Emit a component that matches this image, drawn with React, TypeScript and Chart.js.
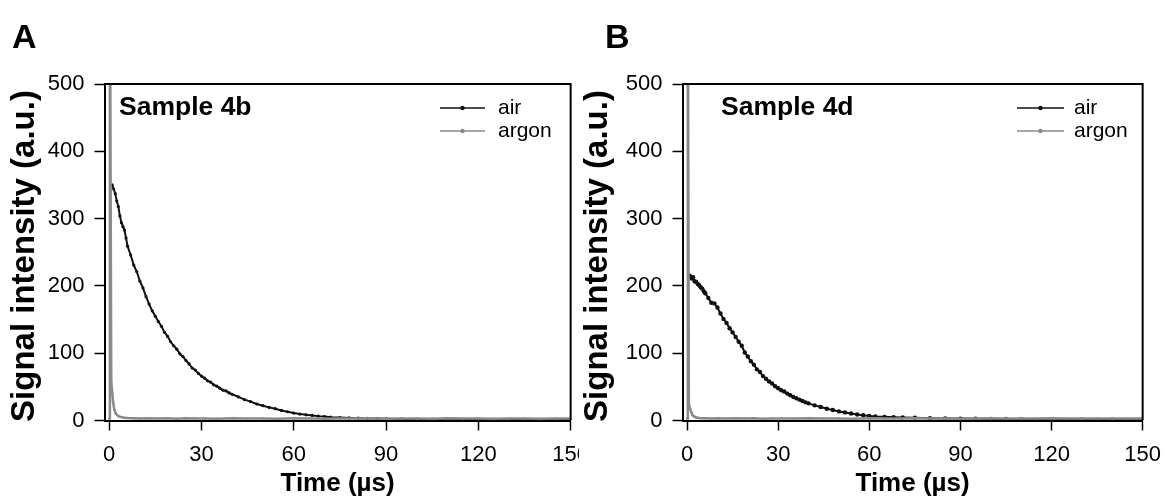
import React, { useEffect, useRef } from "react";
import { Chart, registerables } from "chart.js";

Chart.register(...registerables);

// ---------- data ----------
const xTickValues = [0, 30, 60, 90, 120, 150];
const yTickValues = [0, 100, 200, 300, 400, 500];
const seriesNames = ["air", "argon"];
const panelLetters = ["A", "B"];
const sampleNames = ["Sample 4b", "Sample 4d"];
const xAxisTitle = "Time (µs)";
const yAxisTitle = "Signal intensity (a.u.)";

const airTimeA = [1, 1.5, 2, 2.5, 3, 3.5, 4, 4.5, 5, 5.5, 6, 7, 8, 9, 10, 11, 12, 13, 14, 15, 16, 17, 18, 19, 20, 21, 22, 23, 24, 25, 26, 27, 28, 29, 30, 31, 32, 33, 34, 35, 36, 37, 38, 39, 40, 42, 44, 46, 48, 50, 52, 54, 56, 58, 60, 62, 64, 66, 68, 70, 72, 75, 78, 81, 84, 87, 90, 95, 100, 105, 110, 115, 120, 125, 130, 135, 140, 145, 150];
const airValuesA = [350, 344, 337, 326, 318, 304, 294, 288, 283, 271, 259, 246, 231, 221, 207, 197, 184, 173, 163, 155, 147, 140, 131, 125, 117, 111, 106, 99, 95, 89, 84, 78, 75, 70, 66, 63, 59, 57, 53, 51, 48, 45, 44, 41, 39, 35, 31, 28, 24.5, 22, 19.5, 17.5, 15, 13, 11, 9.5, 8.5, 7.5, 6.5, 5.8, 5, 4.4, 3.9, 3.5, 3.1, 2.8, 2.6, 2.3, 2.1, 1.9, 1.7, 1.6, 1.5, 1.4, 1.3, 1.2, 1.2, 1.1, 1.0];

const argonTimeA = [0, 0.25, 0.7, 1.0, 1.3, 1.7, 2.2, 3, 4, 5, 6, 8, 10, 13, 16, 19, 22, 25, 28, 31, 35, 40, 45, 50, 55, 60, 65, 70, 75, 80, 85, 90, 95, 100, 105, 110, 115, 120, 125, 130, 135, 140, 145, 150];
const argonValuesA = [3, 700, 57, 42, 27, 16, 10, 6.5, 5, 4.2, 3.8, 3.4, 3.0, 3.5, 2.8, 3.2, 2.7, 3.4, 2.9, 3.1, 2.6, 3.3, 2.8, 3.0, 2.7, 3.2, 2.9, 2.6, 3.1, 2.8, 3.3, 2.7, 3.0, 2.9, 2.6, 3.2, 2.8, 3.0, 2.7, 3.1, 2.9, 2.6, 3.0, 2.8];

const airTimeB = [0.9, 1.5, 2, 2.5, 3, 3.5, 4, 4.5, 5, 5.5, 6, 7, 8, 9, 10, 11, 12, 13, 14, 15, 16, 17, 18, 19, 20, 21, 22, 23, 24, 25, 26, 27, 28, 29, 30, 31, 32, 33, 34, 35, 36, 37, 38, 39, 40, 42, 44, 46, 48, 50, 52, 54, 56, 58, 60, 62, 65, 68, 71, 75, 80, 85, 90, 95, 100, 105, 110, 120, 130, 140, 150];
const airValuesB = [215, 211, 213, 207, 206, 203, 201, 198, 196, 192, 189, 182, 175, 174, 168, 159, 151, 145, 137, 131, 124, 117, 111, 101, 95, 88, 83, 76, 72, 66, 62, 58, 55, 51, 48, 45, 43, 40, 37.5, 35, 33, 31, 29, 27, 25.5, 22.5, 20, 17.5, 15.5, 13.5, 12, 10.5, 9, 7.8, 6.8, 6.1, 5.4, 4.9, 4.4, 4, 3.5, 3.1, 2.8, 2.6, 2.4, 2.2, 2.1, 1.9, 1.7, 1.6, 1.5];

const argonTimeB = [0, 0.25, 0.6, 1.0, 1.4, 1.8, 2.3, 3, 4, 5, 6, 8, 10, 13, 16, 19, 22, 25, 28, 31, 35, 40, 45, 50, 55, 60, 65, 70, 75, 80, 85, 90, 95, 100, 105, 110, 115, 120, 125, 130, 135, 140, 145, 150];
const argonValuesB = [3, 700, 24, 18, 12, 8, 6, 4.5, 3.8, 3.5, 3.3, 3.0, 3.4, 2.8, 3.2, 2.9, 3.3, 2.7, 3.1, 3.0, 2.8, 3.2, 2.9, 3.1, 2.7, 3.3, 3.0, 2.8, 3.2, 2.9, 3.1, 2.7, 3.0, 3.2, 2.8, 3.1, 2.9, 3.3, 2.8, 3.0, 2.9, 3.1, 2.8, 3.0];

// ---------- layout ----------
const FONT = "'Liberation Sans', Arial, sans-serif";
const H = 497;
const AREA_TOP = 84;
const AREA_BOTTOM = 420.5;
const AIR_COLOR = "#111111";
const ARGON_COLOR = "#8a8a8a";

type Panel = {
  canvasLeft: number;
  canvasWidth: number;
  bg: boolean;
  areaLeft: number;
  areaRight: number;
  letter: string;
  letterX: number;
  sample: string;
  sampleX: number;
  legendX0: number;
  legendX1: number;
  legendTextX: number;
  yTitleX: number;
  airT: number[];
  airV: number[];
  argT: number[];
  argV: number[];
  airR: number;
};

const panels: Panel[] = [
  {
    canvasLeft: 0, canvasWidth: 600, bg: false, areaLeft: 104.5, areaRight: 574.5,
    letter: panelLetters[0], letterX: 12, sample: sampleNames[0], sampleX: 119,
    legendX0: 440, legendX1: 485, legendTextX: 498, yTitleX: 25,
    airT: airTimeA, airV: airValuesA, argT: argonTimeA, argV: argonValuesA, airR: 1.6,
  },
  {
    canvasLeft: 579, canvasWidth: 593, bg: true, areaLeft: 682.5, areaRight: 1150,
    letter: panelLetters[1], letterX: 605, sample: sampleNames[1], sampleX: 721,
    legendX0: 1017, legendX1: 1064, legendTextX: 1074, yTitleX: 598,
    airT: airTimeB, airV: airValuesB, argT: argonTimeB, argV: argonValuesB, airR: 2.2,
  },
];

function decor(p: Panel) {
  return {
    id: "decor",
    beforeDraw(chart: any) {
      if (!p.bg) return;
      const c = chart.ctx;
      c.save();
      c.fillStyle = "#ffffff";
      c.fillRect(0, 0, chart.width, chart.height);
      c.restore();
    },
    afterDraw(chart: any) {
      const c = chart.ctx as CanvasRenderingContext2D;
      const a = chart.chartArea;
      const ox = p.canvasLeft;
      c.save();
      c.strokeStyle = "#000";
      c.lineWidth = 2;
      c.beginPath();
      c.moveTo(a.left, a.top);
      c.lineTo(a.right, a.top);
      c.lineTo(a.right, a.bottom);
      c.stroke();

      c.fillStyle = "#000";
      c.textAlign = "left";
      c.textBaseline = "alphabetic";
      c.font = `bold 34px ${FONT}`;
      c.fillText(p.letter, p.letterX - ox, 48);
      c.font = `bold 26.5px ${FONT}`;
      c.fillText(p.sample, p.sampleX - ox, 115);

      const rows = [
        { label: seriesNames[0], color: AIR_COLOR, y: 108 },
        { label: seriesNames[1], color: ARGON_COLOR, y: 131 },
      ];
      rows.forEach((r) => {
        c.strokeStyle = r.color;
        c.lineWidth = 1.5;
        c.beginPath();
        c.moveTo(p.legendX0 - ox, r.y);
        c.lineTo(p.legendX1 - ox, r.y);
        c.stroke();
        c.fillStyle = r.color;
        c.beginPath();
        c.arc((p.legendX0 + p.legendX1) / 2 - ox, r.y, 2.2, 0, Math.PI * 2);
        c.fill();
        c.fillStyle = "#000";
        c.font = `21px ${FONT}`;
        c.textBaseline = "middle";
        c.textAlign = "left";
        c.fillText(r.label, p.legendTextX - ox, r.y);
      });

      c.fillStyle = "#000";
      c.font = `bold 26px ${FONT}`;
      c.textAlign = "center";
      c.textBaseline = "middle";
      c.fillText(xAxisTitle, (a.left + a.right) / 2, 484);

      c.translate(p.yTitleX - ox, 256);
      c.rotate(-Math.PI / 2);
      c.font = `bold 33px ${FONT}`;
      c.fillText(yAxisTitle, 0, 0);
      c.restore();
    },
  };
}

function PanelChart({ p }: { p: Panel }) {
  const ref = useRef<HTMLCanvasElement | null>(null);
  useEffect(() => {
    if (!ref.current) return;
    const chart = new Chart(ref.current, {
      type: "line",
      data: {
        datasets: [
          {
            label: seriesNames[0],
            data: p.airT.map((t, i) => ({ x: t, y: p.airV[i] })),
            borderColor: AIR_COLOR,
            backgroundColor: AIR_COLOR,
            borderWidth: 2,
            pointRadius: p.airR,
            pointBorderWidth: 0,
            order: 1,
          },
          {
            label: seriesNames[1],
            data: p.argT.map((t, i) => ({ x: t, y: p.argV[i] })),
            borderColor: ARGON_COLOR,
            backgroundColor: ARGON_COLOR,
            borderWidth: 2.5,
            pointRadius: 1.2,
            pointBorderWidth: 0,
            order: 0,
          },
        ],
      },
      options: {
        animation: false,
        responsive: false,
        devicePixelRatio: 1,
        layout: {
          padding: {
            left: 0,
            top: AREA_TOP,
            right: p.canvasWidth - (p.areaRight - p.canvasLeft),
            bottom: 0,
          },
        },
        plugins: { legend: { display: false }, tooltip: { enabled: false } },
        scales: {
          x: {
            type: "linear",
            min: -1.5,
            max: 150,
            afterBuildTicks: (s: any) => {
              s.ticks = xTickValues.map((v) => ({ value: v }));
            },
            afterFit: (s: any) => {
              s.height = H - AREA_BOTTOM;
            },
            grid: { drawOnChartArea: false, drawTicks: true, tickLength: 10, tickColor: "#000", tickWidth: 1.5 },
            border: { display: true, color: "#000", width: 2 },
            ticks: { color: "#000", font: { family: FONT, size: 22 }, padding: 11, maxRotation: 0, autoSkip: false },
          },
          y: {
            type: "linear",
            min: 0,
            max: 500,
            afterBuildTicks: (s: any) => {
              s.ticks = yTickValues.map((v) => ({ value: v }));
            },
            afterFit: (s: any) => {
              s.width = p.areaLeft - p.canvasLeft;
            },
            grid: { drawOnChartArea: false, drawTicks: true, tickLength: 10, tickColor: "#000", tickWidth: 1.5 },
            border: { display: true, color: "#000", width: 2 },
            ticks: { color: "#000", font: { family: FONT, size: 22 }, padding: 10, autoSkip: false },
          },
        },
      },
      plugins: [decor(p)],
    } as any);
    return () => chart.destroy();
  }, [p]);
  return (
    <canvas
      ref={ref}
      width={p.canvasWidth}
      height={H}
      style={{ position: "absolute", left: p.canvasLeft, top: 0, width: p.canvasWidth, height: H }}
    />
  );
}

export default function App() {
  return (
    <div style={{ position: "absolute", left: 0, top: 0, width: 1172, height: H, background: "#fff", overflow: "hidden" }}>
      {panels.map((p, i) => (
        <PanelChart key={i} p={p} />
      ))}
    </div>
  );
}
